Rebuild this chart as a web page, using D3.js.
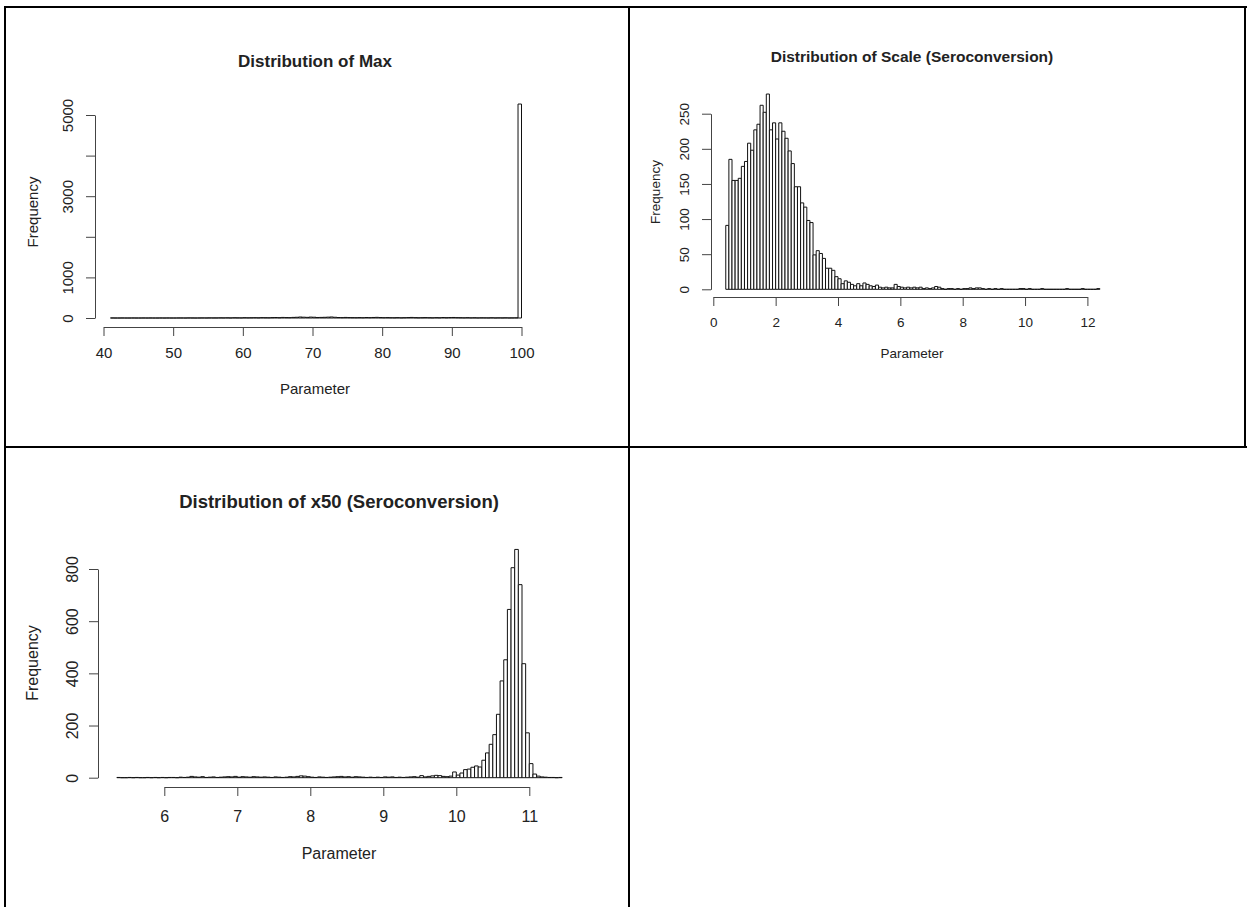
<!DOCTYPE html>
<html>
<head>
<meta charset="utf-8">
<script src="https://cdn.jsdelivr.net/npm/d3@7"></script>
<style>
	html, body { margin:0; padding:0; background:#ffffff; }
	svg { display:block; }
	text { font-family:"Liberation Sans", Arial, Helvetica, sans-serif; fill:#222222; }
</style>
</head>
<body>
<svg id="page" width="1247" height="907"></svg>
<script>
(function(){

	// histogram counts, one value per bin
	var maxStart = 41, maxWidth = 0.5;
	var maxCounts = [
		1,0,0,1,0,0,1,0,0,1,
		0,1,0,0,1,0,1,0,0,1,
		1,0,2,1,0,1,2,1,3,2,
		2,4,3,5,2,6,4,3,7,5,
		6,8,5,9,7,6,10,12,8,14,
		11,9,15,18,24,20,16,22,19,13,
		15,17,21,25,18,12,10,14,11,9,
		8,10,7,12,9,13,16,11,8,10,
		7,6,9,5,8,11,14,9,6,8,
		10,7,5,9,6,12,8,11,13,9,
		7,5,8,4,6,3,5,4,3,6,
		2,4,3,5,2,3,4,5270
	];
	var maxXTicks = [40,50,60,70,80,90,100];
	var maxYTicks = [0,1000,2000,3000,4000,5000];
	var maxYLabels = [0,1000,3000,5000];

	var scaleStart = 0.4, scaleWidth = 0.1;
	var scaleCounts = [
		91,185,155,155,158,175,182,208,198,227,
		235,262,252,278,227,237,214,237,225,215,
		197,179,146,146,123,117,98,95,49,55,
		51,44,30,30,27,18,15,8,12,10,
		7,5,8,5,9,7,5,4,6,3,
		2,3,2,2,7,4,3,2,3,2,
		3,2,3,1,2,1,2,4,3,1,
		0,1,1,0,1,0,1,1,2,1,
		2,2,1,0,1,0,1,0,1,0,
		0,0,0,0,1,1,0,1,0,0,
		0,1,0,0,0,0,0,0,0,1,
		0,0,0,0,1,0,0,0,0,1
	];
	var scaleXTicks = [0,2,4,6,8,10,12];
	var scaleYTicks = [0,50,100,150,200,250];

	var x50Start = 5.35, x50Width = 0.05;
	var x50Counts = [
		1,0,0,1,0,1,0,0,1,0,
		1,0,1,0,1,1,0,2,1,2,
		5,3,2,4,1,2,3,1,2,3,
		4,3,5,2,4,3,2,4,3,2,
		3,2,1,3,2,1,2,4,3,5,
		7,6,4,2,1,3,2,1,2,3,
		4,5,3,4,2,4,3,2,1,2,
		1,2,1,3,2,3,1,2,1,2,
		3,4,2,8,3,5,7,9,8,5,
		4,6,22,10,18,31,33,40,45,41,
		67,95,128,165,243,371,452,645,805,875,
		740,437,172,54,14,6,3,2,1,1,
		0,1
	];
	var x50XTicks = [6,7,8,9,10,11];
	var x50YTicks = [0,200,400,600,800];

	var svg = d3.select("#page");

	// table grid round the three plots
	var grid = svg.append("g").attr("stroke","#000").attr("stroke-width",2);
	grid.append("line").attr("x1",4).attr("y1",7).attr("x2",1247).attr("y2",7);
	grid.append("line").attr("x1",5).attr("y1",6).attr("x2",5).attr("y2",907);
	grid.append("line").attr("x1",629).attr("y1",6).attr("x2",629).attr("y2",907);
	grid.append("line").attr("x1",4).attr("y1",447).attr("x2",1247).attr("y2",447);
	grid.append("line").attr("x1",1245).attr("y1",6).attr("x2",1245).attr("y2",447);

	var drawHist = function(o){
		var g = svg.append("g");
		var x = d3.scaleLinear().domain(o.xDom).range(o.xPx);
		var y = d3.scaleLinear().domain(o.yDom).range(o.yPx);

		var bins = o.counts.map(function(c,i){
			return {x0:o.start + i*o.width, x1:o.start + (i+1)*o.width, n:c};
		});

		// paths, not rects, so empty bins still leave a line on the base
		g.append("g").selectAll("path").data(bins).enter().append("path")
			.attr("d",function(d){
				return "M"+x(d.x0)+","+y(0)+"V"+y(d.n)+"H"+x(d.x1)+"V"+y(0)+"Z";
			})
			.attr("fill","#ffffff").attr("stroke","#111").attr("stroke-width",1);

		var xa = g.append("g").attr("transform","translate(0,"+o.xAxisY+")")
			.call(d3.axisBottom(x).tickValues(o.xTicks).tickSize(9).tickSizeOuter(0).tickFormat(d3.format("d")));
		xa.selectAll("text").attr("y",o.xLabOff).attr("dy",0)
			.style("font-size",o.tick+"px").style("fill","#222");

		var ya = g.append("g").attr("transform","translate("+o.yAxisX+",0)")
			.call(d3.axisLeft(y).tickValues(o.yTicks).tickSize(9).tickSizeOuter(0).tickFormat(function(d){
				return o.yLabels.indexOf(d) >= 0 ? d : "";
			}));
		ya.selectAll("text").attr("transform","rotate(-90)").attr("x",0).attr("y",-o.yLabOff)
			.attr("dy",0).attr("text-anchor","middle")
			.style("font-size",o.tick+"px").style("fill","#222");

		g.selectAll(".domain, .tick line").attr("stroke","#444");
		g.selectAll(".tick text").style("font-family",'"Liberation Sans", Arial, sans-serif');

		g.append("text").attr("x",o.titleX).attr("y",o.titleY).attr("text-anchor","middle")
			.style("font-weight","bold").style("font-size",o.titleSize+"px").text(o.title);
		g.append("text").attr("x",o.titleX).attr("y",o.xlabY).attr("text-anchor","middle")
			.style("font-size",o.lab+"px").text("Parameter");
		g.append("text").attr("transform","translate("+o.ylabX+","+o.ylabY+") rotate(-90)")
			.attr("text-anchor","middle").style("font-size",o.lab+"px").text("Frequency");
	};

	drawHist({
		counts:maxCounts, start:maxStart, width:maxWidth,
		xDom:[40,100], xPx:[103.5,521.5], yDom:[0,5000], yPx:[318,115],
		xTicks:maxXTicks, yTicks:maxYTicks, yLabels:maxYLabels,
		xAxisY:327, yAxisX:95, xLabOff:31, yLabOff:22, tick:15, lab:15,
		title:"Distribution of Max", titleSize:17, titleX:315, titleY:67,
		xlabY:394, ylabX:38, ylabY:212
	});

	drawHist({
		counts:scaleCounts, start:scaleStart, width:scaleWidth,
		xDom:[0,12], xPx:[713.3,1087.4], yDom:[0,250], yPx:[289.3,113.7],
		xTicks:scaleXTicks, yTicks:scaleYTicks, yLabels:scaleYTicks,
		xAxisY:297, yAxisX:711, xLabOff:30, yLabOff:22, tick:13.5, lab:13.5,
		title:"Distribution of Scale (Seroconversion)", titleSize:15.5, titleX:912, titleY:62,
		xlabY:358, ylabX:660, ylabY:192
	});

	drawHist({
		counts:x50Counts, start:x50Start, width:x50Width,
		xDom:[6,11], xPx:[164.3,529.3], yDom:[0,800], yPx:[777.7,569],
		xTicks:x50XTicks, yTicks:x50YTicks, yLabels:x50YTicks,
		xAxisY:787, yAxisX:98, xLabOff:35, yLabOff:20, tick:16, lab:16,
		title:"Distribution of x50 (Seroconversion)", titleSize:18.5, titleX:339, titleY:508,
		xlabY:859, ylabX:38, ylabY:663
	});

})();
</script>
</body>
</html>
